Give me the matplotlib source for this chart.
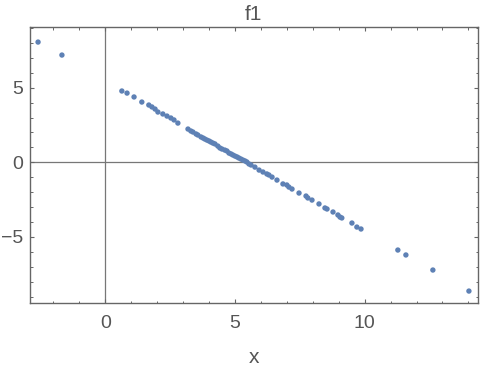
import matplotlib
matplotlib.use("Agg")
import matplotlib.pyplot as plt
from matplotlib.ticker import MultipleLocator

x_vals = [-2.59, -1.67, 0.64, 0.84, 1.11, 1.41, 1.68, 1.80, 1.92, 2.03, 2.22, 2.38,
          2.53, 2.65, 2.80, 3.19, 3.30, 3.38, 3.50, 3.57, 3.69, 3.77, 3.84, 3.92,
          4.00, 4.07, 4.15, 4.23, 4.34, 4.42, 4.50, 4.61, 4.69, 4.77, 4.85, 4.92,
          5.00, 5.08, 5.15, 5.23, 5.31, 5.39, 5.46, 5.54, 5.62, 5.77, 5.93, 6.08,
          6.23, 6.31, 6.43, 6.62, 6.85, 7.00, 7.08, 7.20, 7.47, 7.74, 7.81, 7.97,
          8.24, 8.47, 8.55, 8.78, 8.97, 9.05, 9.12, 9.51, 9.70, 9.86, 11.28, 11.59,
          12.63, 14.02]
y_vals = [8.06, 7.19, 4.78, 4.64, 4.38, 4.04, 3.84, 3.71, 3.57, 3.37, 3.24, 3.10,
          2.97, 2.84, 2.63, 2.23, 2.10, 2.03, 1.90, 1.83, 1.70, 1.63, 1.56, 1.49,
          1.43, 1.36, 1.29, 1.23, 1.09, 0.96, 0.89, 0.82, 0.76, 0.62, 0.56, 0.49,
          0.42, 0.36, 0.29, 0.22, 0.15, 0.09, 0.02, -0.11, -0.18, -0.32, -0.52, -0.65,
          -0.78, -0.85, -0.99, -1.19, -1.45, -1.52, -1.66, -1.79, -2.06, -2.26, -2.39, -2.53,
          -2.79, -3.06, -3.13, -3.33, -3.53, -3.67, -3.73, -4.07, -4.34, -4.47, -5.88, -6.21,
          -7.22, -8.63]
x_ticks = [0, 5, 10]
y_ticks = [-5, 0, 5]
title = "f1"
x_label = "x"

plt.rcParams['font.family'] = ['Liberation Sans', 'DejaVu Sans']
plt.rcParams['axes.unicode_minus'] = True

text_color = '#555555'
frame_color = '#666666'
pt_color = '#5E81B5'

fig = plt.figure(figsize=(4.82, 3.67), dpi=100)
ax = fig.add_axes([29.5/482, 1-303/367, (478-29.5)/482, (303-26.7)/367])

ax.axhline(0, color='#777777', lw=0.9, zorder=1)
ax.axvline(0, color='#777777', lw=0.9, zorder=1)
ax.scatter(x_vals, y_vals, s=15, color=pt_color, edgecolors='none', zorder=3)

ax.set_xlim(-2.92, 14.37)
ax.set_ylim(-9.43, 9.09)
ax.set_xticks(x_ticks)
ax.set_yticks(y_ticks)
ax.set_yticklabels(['\u22125', '0', '5'])
ax.xaxis.set_minor_locator(MultipleLocator(1))
ax.yaxis.set_minor_locator(MultipleLocator(1))

ax.tick_params(which='both', direction='in', top=True, right=True,
               colors=frame_color, labelcolor=text_color, labelsize=14)
ax.tick_params(which='major', length=3.2, width=0.8)
ax.tick_params(which='minor', length=1.8, width=0.7)
ax.tick_params(axis='x', which='major', pad=9)
ax.tick_params(axis='y', which='major', pad=4.5)
for s in ax.spines.values():
    s.set_color(frame_color)
    s.set_linewidth(1.0)

ax.set_title(title, color=text_color, fontsize=15, pad=5)
ax.set_xlabel(x_label, color=text_color, fontsize=15, labelpad=11)

fig.savefig('out.png', dpi=100)
